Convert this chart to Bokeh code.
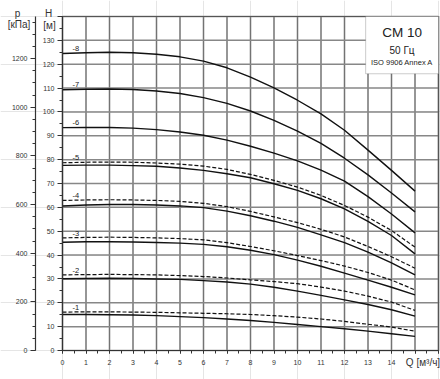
from bokeh.plotting import figure
from bokeh.models import Range1d, LinearAxis, FixedTicker, Label, BoxAnnotation, ColumnDataSource
from bokeh.embed import file_html
from bokeh.resources import INLINE
from bokeh.core.properties import value

# ---- data ----
q = [0, 1, 2, 3, 4, 5, 6, 7, 8, 9, 10, 11, 12, 13, 14, 15]

h8_solid = [124.5, 124.8, 125.0, 124.8, 124.2, 123.1, 121.3, 118.5, 114.6, 110.1, 104.9, 99.2, 92.3, 84.0, 75.5, 66.8]
h7_solid = [109.3, 109.5, 109.6, 109.4, 108.8, 107.7, 106.0, 103.6, 100.4, 96.5, 92.0, 86.8, 80.6, 73.6, 66.0, 58.1]
h6_solid = [93.4, 93.5, 93.5, 93.2, 92.6, 91.6, 90.2, 88.2, 85.6, 82.7, 79.5, 75.6, 71.0, 64.5, 57.2, 49.3]
h5_solid = [77.6, 77.7, 77.7, 77.5, 77.2, 76.5, 75.5, 74.1, 72.4, 69.9, 67.1, 63.6, 59.4, 54.1, 48.2, 40.5]
h4_solid = [60.6, 61.0, 61.2, 61.2, 61.0, 60.6, 59.9, 58.4, 56.5, 54.2, 51.6, 48.5, 45.2, 41.2, 36.7, 31.7]
h3_solid = [45.4, 45.6, 45.6, 45.5, 45.3, 45.0, 44.5, 43.5, 42.0, 40.2, 37.9, 35.3, 32.4, 29.5, 26.5, 23.3]
h2_solid = [30.1, 30.2, 30.3, 30.2, 30.0, 29.8, 29.3, 28.7, 27.8, 26.5, 24.9, 23.1, 21.2, 19.3, 17.1, 14.4]
h1_solid = [15.1, 15.1, 15.0, 14.9, 14.6, 14.2, 13.8, 13.2, 12.6, 11.8, 10.9, 10.0, 9.1, 8.1, 7.0, 5.9]

h5_dashed = [78.7, 78.9, 79.0, 78.9, 78.6, 78.1, 77.3, 75.9, 73.8, 71.3, 68.5, 65.0, 60.8, 55.9, 50.3, 43.3]
h4_dashed = [62.9, 63.1, 63.2, 63.1, 62.9, 62.5, 61.7, 60.3, 58.3, 56.0, 53.6, 50.8, 47.6, 43.6, 39.3, 34.5]
h3_dashed = [47.2, 47.4, 47.5, 47.4, 47.2, 46.9, 46.4, 45.2, 43.6, 41.8, 39.8, 37.7, 35.4, 32.7, 29.5, 25.4]
h2_dashed = [31.7, 31.8, 31.9, 31.8, 31.7, 31.4, 31.0, 30.4, 29.6, 28.9, 28.0, 26.6, 24.9, 22.8, 20.3, 16.8]
h1_dashed = [16.1, 16.2, 16.2, 16.1, 16.0, 15.8, 15.6, 15.4, 15.1, 14.6, 14.0, 13.2, 12.2, 11.0, 9.8, 8.1]

stage_labels = ["-1", "-2", "-3", "-4", "-5", "-6", "-7", "-8"]

x_ticks = list(range(0, 17))
x_minor = [i * 0.5 for i in range(0, 33)]
h_ticks = list(range(0, 150, 10))
h_minor = list(range(0, 145, 5))
kpa_ticks = [0, 200, 400, 600, 800, 1000, 1200]
kpa_minor = list(range(0, 1400, 50))
KPA_PER_M = 9.81

title_lines = ["CM 10", "50 Гц", "ISO 9906 Annex A"]
axis_titles = ["p", "[кПа]", "H", "[м]", "Q [м³/ч]"]

FONT = "Liberation Sans"
TXT = "#333333"

# ---- geometry (pixels) ----
W, HGT = 440, 379
LEFT, RIGHT, TOP, BOTTOM = 62, 2, 16, 29
Q_MAX = x_ticks[-1]
H_MAX = h_ticks[-1]
sx = (W - LEFT - RIGHT) / Q_MAX          # px per m3/h
sy = (HGT - TOP - BOTTOM) / H_MAX        # px per m
X0, X1 = -LEFT / sx, Q_MAX + RIGHT / sx
Y0, Y1 = -BOTTOM / sy, H_MAX + TOP / sy

p = figure(width=W, height=HGT, output_backend="svg", toolbar_location=None,
           x_range=Range1d(X0, X1), y_range=Range1d(Y0, Y1),
           x_axis_location=None, y_axis_location=None,
           min_border=0, min_border_left=0, min_border_right=0, min_border_top=0, min_border_bottom=0)
p.outline_line_color = None
p.extra_y_ranges = {"kpa": Range1d(Y0 * KPA_PER_M, Y1 * KPA_PER_M)}

# grid (glyphs)
p.segment(x0=x_ticks, y0=[0] * len(x_ticks), x1=x_ticks, y1=[H_MAX] * len(x_ticks),
          line_color="#737373", line_width=1.5)
p.segment(x0=[0] * len(h_ticks), y0=h_ticks, x1=[Q_MAX] * len(h_ticks), y1=h_ticks,
          line_color="#878787", line_width=1.5)
# top / right border
p.segment(x0=[0, Q_MAX], y0=[H_MAX, 0], x1=[Q_MAX, Q_MAX], y1=[H_MAX, H_MAX],
          line_color="#555555", line_width=1.2)

# axes placed at fixed locations inside the (full-canvas) frame
xa = LinearAxis(fixed_location=0, bounds=(0, Q_MAX),
                ticker=FixedTicker(ticks=x_ticks, minor_ticks=x_minor))
xa.major_label_overrides = {15: "", 16: ""}
xa.major_tick_out = 3
xa.major_tick_in = 0
xa.minor_tick_out = 3
xa.minor_tick_in = 0
xa.major_label_standoff = 6

ya = LinearAxis(fixed_location=0, bounds=(0, H_MAX),
                ticker=FixedTicker(ticks=h_ticks, minor_ticks=h_minor))
ya.major_label_overrides = {140: ""}
ya.major_tick_out = 5
ya.major_tick_in = 0
ya.minor_tick_out = 3
ya.minor_tick_in = 0
ya.major_label_standoff = 3

pax = LinearAxis(y_range_name="kpa", fixed_location=-27 / sx, bounds=(0, H_MAX * KPA_PER_M),
                 ticker=FixedTicker(ticks=kpa_ticks, minor_ticks=kpa_minor))
pax.major_tick_out = 5
pax.major_tick_in = 0
pax.minor_tick_out = 3
pax.minor_tick_in = 0
pax.major_label_standoff = 3

for ax in (xa, ya, pax):
    ax.axis_line_color = "#333333"
    ax.axis_line_width = 1.2
    ax.major_tick_line_color = "#333333"
    ax.minor_tick_line_color = "#333333"
    ax.major_label_text_font = FONT
    ax.major_label_text_font_size = "7px"
    ax.major_label_text_color = TXT
p.add_layout(xa, "below")
p.add_layout(ya, "left")
p.add_layout(pax, "left")

# curves
solids = [h1_solid, h2_solid, h3_solid, h4_solid, h5_solid, h6_solid, h7_solid, h8_solid]
dashes = [h1_dashed, h2_dashed, h3_dashed, h4_dashed, h5_dashed]
for h in dashes:
    p.line(q, h, line_color="#111111", line_width=1.2, line_dash="4 2")
for h in solids:
    p.line(q, h, line_color="#111111", line_width=1.4)

tops = []
for i, h in enumerate(solids):
    top = h[0]
    if i < len(dashes):
        top = max(top, dashes[i][0])
    tops.append(top + 2.0)
lab_src = ColumnDataSource(dict(x=[0.43] * len(stage_labels), y=tops, t=stage_labels))
p.text(x="x", y="y", text="t", source=lab_src, text_font=value(FONT), text_font_size="7.5px",
       text_color="#222222", text_baseline="middle", text_align="left")

# info box
box = BoxAnnotation(left=12.9, right=Q_MAX, bottom=116, top=H_MAX, fill_color="white", fill_alpha=1.0,
                    line_color="#555555", line_width=1)
p.add_layout(box)
box_x = (12.9 + Q_MAX) / 2
p.add_layout(Label(x=box_x, y=133.3, text=title_lines[0], text_font=FONT, text_font_size="13.5px",
                   text_color="#222222", text_align="center", text_baseline="middle"))
p.add_layout(Label(x=box_x, y=125.8, text=title_lines[1], text_font=FONT, text_font_size="10px",
                   text_color="#222222", text_align="center", text_baseline="middle"))
p.add_layout(Label(x=box_x, y=120.8, text=title_lines[2], text_font=FONT, text_font_size="7.5px",
                   text_color="#222222", text_align="center", text_baseline="middle"))

# axis titles
title_src = ColumnDataSource(dict(
    x=[-45 / sx, -43.5 / sx, -14 / sx, -13 / sx, 15.34],
    y=[H_MAX + 3 / sy, H_MAX - 8 / sy, H_MAX + 3 / sy, H_MAX - 9 / sy, -12 / sy],
    t=axis_titles))
p.text(x="x", y="y", text="t", source=title_src, text_font=value(FONT), text_font_size="10px",
       text_color=TXT, text_baseline="middle", text_align="center")

open("out.html", "w").write(file_html(p, INLINE))
